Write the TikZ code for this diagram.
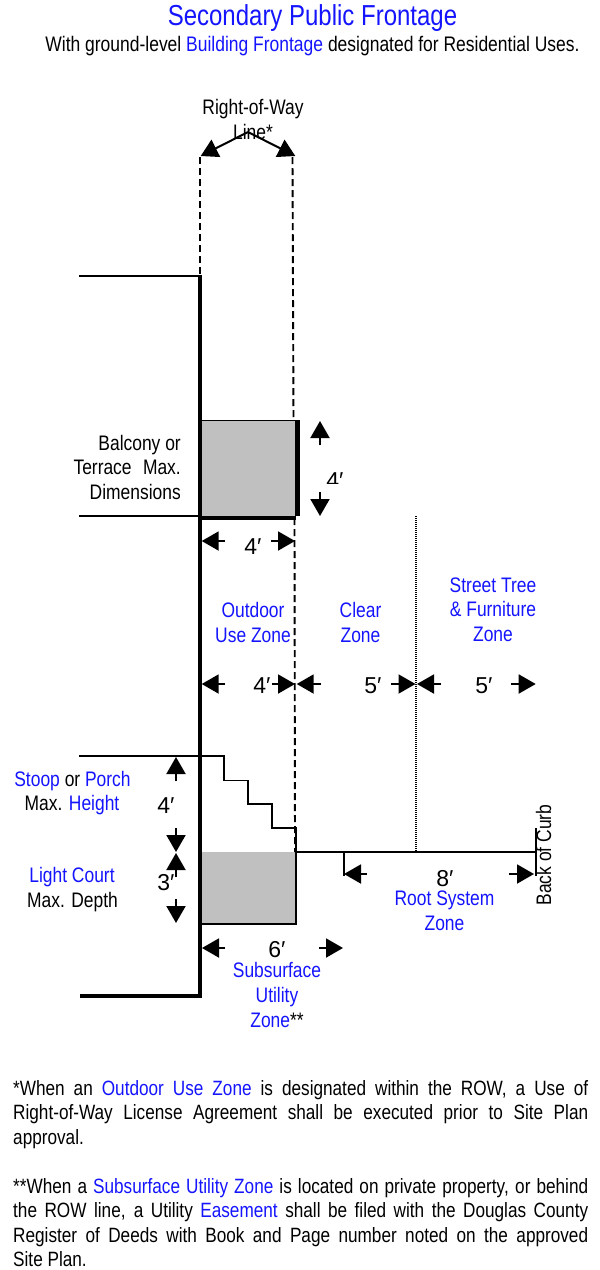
\documentclass[tikz,border=0pt]{standalone}
\usepackage{fontspec}
\setmainfont[FakeStretch=0.83]{Liberation Sans}
\newfontfamily\numfont{Liberation Sans}
\usetikzlibrary{arrows.meta}
\definecolor{zone}{RGB}{20,20,255}
\definecolor{fillgray}{RGB}{192,192,192}
\tikzset{
  thinln/.style={line width=1.8pt,black},
  thickln/.style={line width=4.4pt,black},
  dashln/.style={line width=1.9pt,dash pattern=on 7pt off 4pt,black},
  dimarrow/.style={line width=2pt,-{Triangle[length=17pt,width=19pt]},black},
  lbl/.style={anchor=base,inner sep=0pt,font=\fontsize{21}{24}\selectfont},
  num/.style={anchor=base,inner sep=0pt,font=\numfont\fontsize{23}{24}\selectfont},
  foot/.style={anchor=north west,inner sep=0pt,text width=575pt,align=justify,font=\fontsize{20.7}{24.55}\selectfont},
}
\newcommand{\zn}[1]{\textcolor{zone}{#1}}
\newcommand{\dimar}[5]{\coordinate (#1a) at (#2,#3);\coordinate (#1b) at (#4,#5);\draw[dimarrow] (#1a) -- (#1b);}
\begin{document}
\begin{tikzpicture}[x=1pt,y=-1pt]
\useasboundingbox (0,0) rectangle (600,1270);
% title
\node[anchor=base,inner sep=0pt,font=\fontsize{28.9}{30}\selectfont,text=zone] (title) at (312.5,25) {Secondary Public Frontage};
\node[lbl,font=\fontsize{21.05}{24}\selectfont] (sub) at (312.5,51) {With ground-level \zn{Building Frontage} designated for Residential Uses.};
% gray areas
\fill[fillgray] (202,420.5) rectangle (296,516);
\fill[fillgray] (202,852) rectangle (296,924);
% right of way
\node[lbl] (row1) at (253,114) {Right-of-Way};
\node[lbl] (row2) at (253,139) {Line*};
\coordinate (apex) at (248,132);
\coordinate (rowl) at (200.7,156);
\coordinate (rowr) at (295.3,156);
\draw[dimarrow] (apex) -- (rowl);
\draw[dimarrow] (apex) -- (rowr);
\draw[dashln] (200,157) -- (200,276);
\draw[dashln] (292.5,157) -- (293.5,420);
\draw[dashln] (294.5,518) -- (295,852);
% building
\draw[thinln] (79,276) -- (200,276);
\draw[thinln] (79,516) -- (200,516);
\draw[thinln] (79,756) -- (224,756) -- (224,780.5) -- (248,780.5) -- (248,804) -- (272,804) -- (272,828) -- (296,828) -- (296,924) -- (202,924);
\draw[thinln] (200,420.5) -- (296,420.5);
\draw[thickln] (200,274.5) -- (200,972);
\draw[thickln,line join=miter] (80,996) -- (200,996) -- (200,970);
\draw[thickln] (297.5,420) -- (297.5,516);
\draw[thickln] (200,518) -- (296,518);
% ground
\draw[thinln] (296,852) -- (536,852);
\draw[thinln] (536,828) -- (536,876);
\draw[thinln] (344,852) -- (344,876);
\draw[line width=1.5pt,dash pattern=on 1pt off 1pt,black] (416,516) -- (416,852);
% dimension arrows
\dimar{ba}{320}{445}{320}{421}
\dimar{bb}{320}{492}{320}{516}
\dimar{bc}{225}{541}{201.7}{541}
\dimar{bd}{271}{541}{295}{541}
\dimar{ca}{225}{684}{201.7}{684}
\dimar{cb}{272}{684}{295}{684}
\dimar{cc}{321}{684}{296.7}{684}
\dimar{cd}{391}{684}{415.5}{684}
\dimar{ce}{441}{684}{417}{684}
\dimar{cf}{511}{684}{535.7}{684}
\dimar{da}{176}{781}{176}{757}
\dimar{db}{176}{828}{176}{852}
\dimar{dc}{176}{877}{176}{853}
\dimar{dd}{176}{899}{176}{923}
\dimar{ea}{225}{948}{202}{948}
\dimar{eb}{319}{948}{343}{948}
\dimar{fa}{367}{874}{344}{874}
\dimar{fb}{509}{874}{534}{874}
% numbers
\begin{scope}
\clip (322,465) rectangle (350,483.5);
\node[num] (n4a) at (335,488) {4′};
\end{scope}
\node[num] (n4b) at (253,554) {4′};
\node[num] (n4c) at (262,693) {4′};
\node[num] (n5a) at (373,693) {5′};
\node[num] (n5b) at (484,693) {5′};
\node[num] (n4d) at (166,813) {4′};
\node[num] (n3) at (166,890.7) {3′};
\node[num] (n6) at (277,957) {6′};
\node[num] (n8) at (445,886) {8′};
% labels
\node[lbl,anchor=base east] (b1) at (181,450) {Balcony or};
\node[lbl,anchor=base east] (b2) at (181,474) {Terrace\ \ \hspace{1.7pt}Max.};
\node[lbl,anchor=base east] (b3) at (181,499) {Dimensions};
\node[lbl,text=zone] (o1) at (253,617) {Outdoor};
\node[lbl,text=zone] (o2) at (253,642) {Use Zone};
\node[lbl,text=zone] (c1) at (360.5,617) {Clear};
\node[lbl,text=zone] (c2) at (360.5,642) {Zone};
\node[lbl,text=zone] (s1) at (493,592) {Street Tree};
\node[lbl,text=zone] (s2) at (493,616) {\&\ Furniture};
\node[lbl,text=zone] (s3) at (493,641) {Zone};
\node[lbl] (st1) at (72.5,786) {\zn{Stoop} or \zn{Porch}};
\node[lbl] (st2) at (72,810) {Max. \zn{Height}};
\node[lbl,text=zone] (lc1) at (72,882) {Light Court};
\node[lbl] (lc2) at (72.5,907) {Max. Depth};
\node[lbl,text=zone] (r1) at (444.5,905) {Root System};
\node[lbl,text=zone] (r2) at (444.5,930) {Zone};
\node[lbl,text=zone] (u1) at (277,977) {Subsurface};
\node[lbl,text=zone] (u2) at (277,1002) {Utility};
\node[lbl] (u3) at (277,1027) {\zn{Zone}**};
\node[lbl,rotate=90] (curb) at (551,855) {Back of Curb};
% footnotes
\node[foot] (f1) at (13,1080) {*When an \zn{Outdoor Use Zone} is designated within the ROW, a Use of\linebreak Right-of-Way License Agreement shall be executed prior to Site Plan\linebreak approval.};
\node[foot] (f2) at (13,1178) {**When a \zn{Subsurface Utility Zone} is located on private property, or behind\linebreak the ROW line, a Utility \zn{Easement} shall be filed with the Douglas County\linebreak Register of Deeds with Book and Page number noted on the approved\linebreak Site Plan.};
\end{tikzpicture}
\end{document}
